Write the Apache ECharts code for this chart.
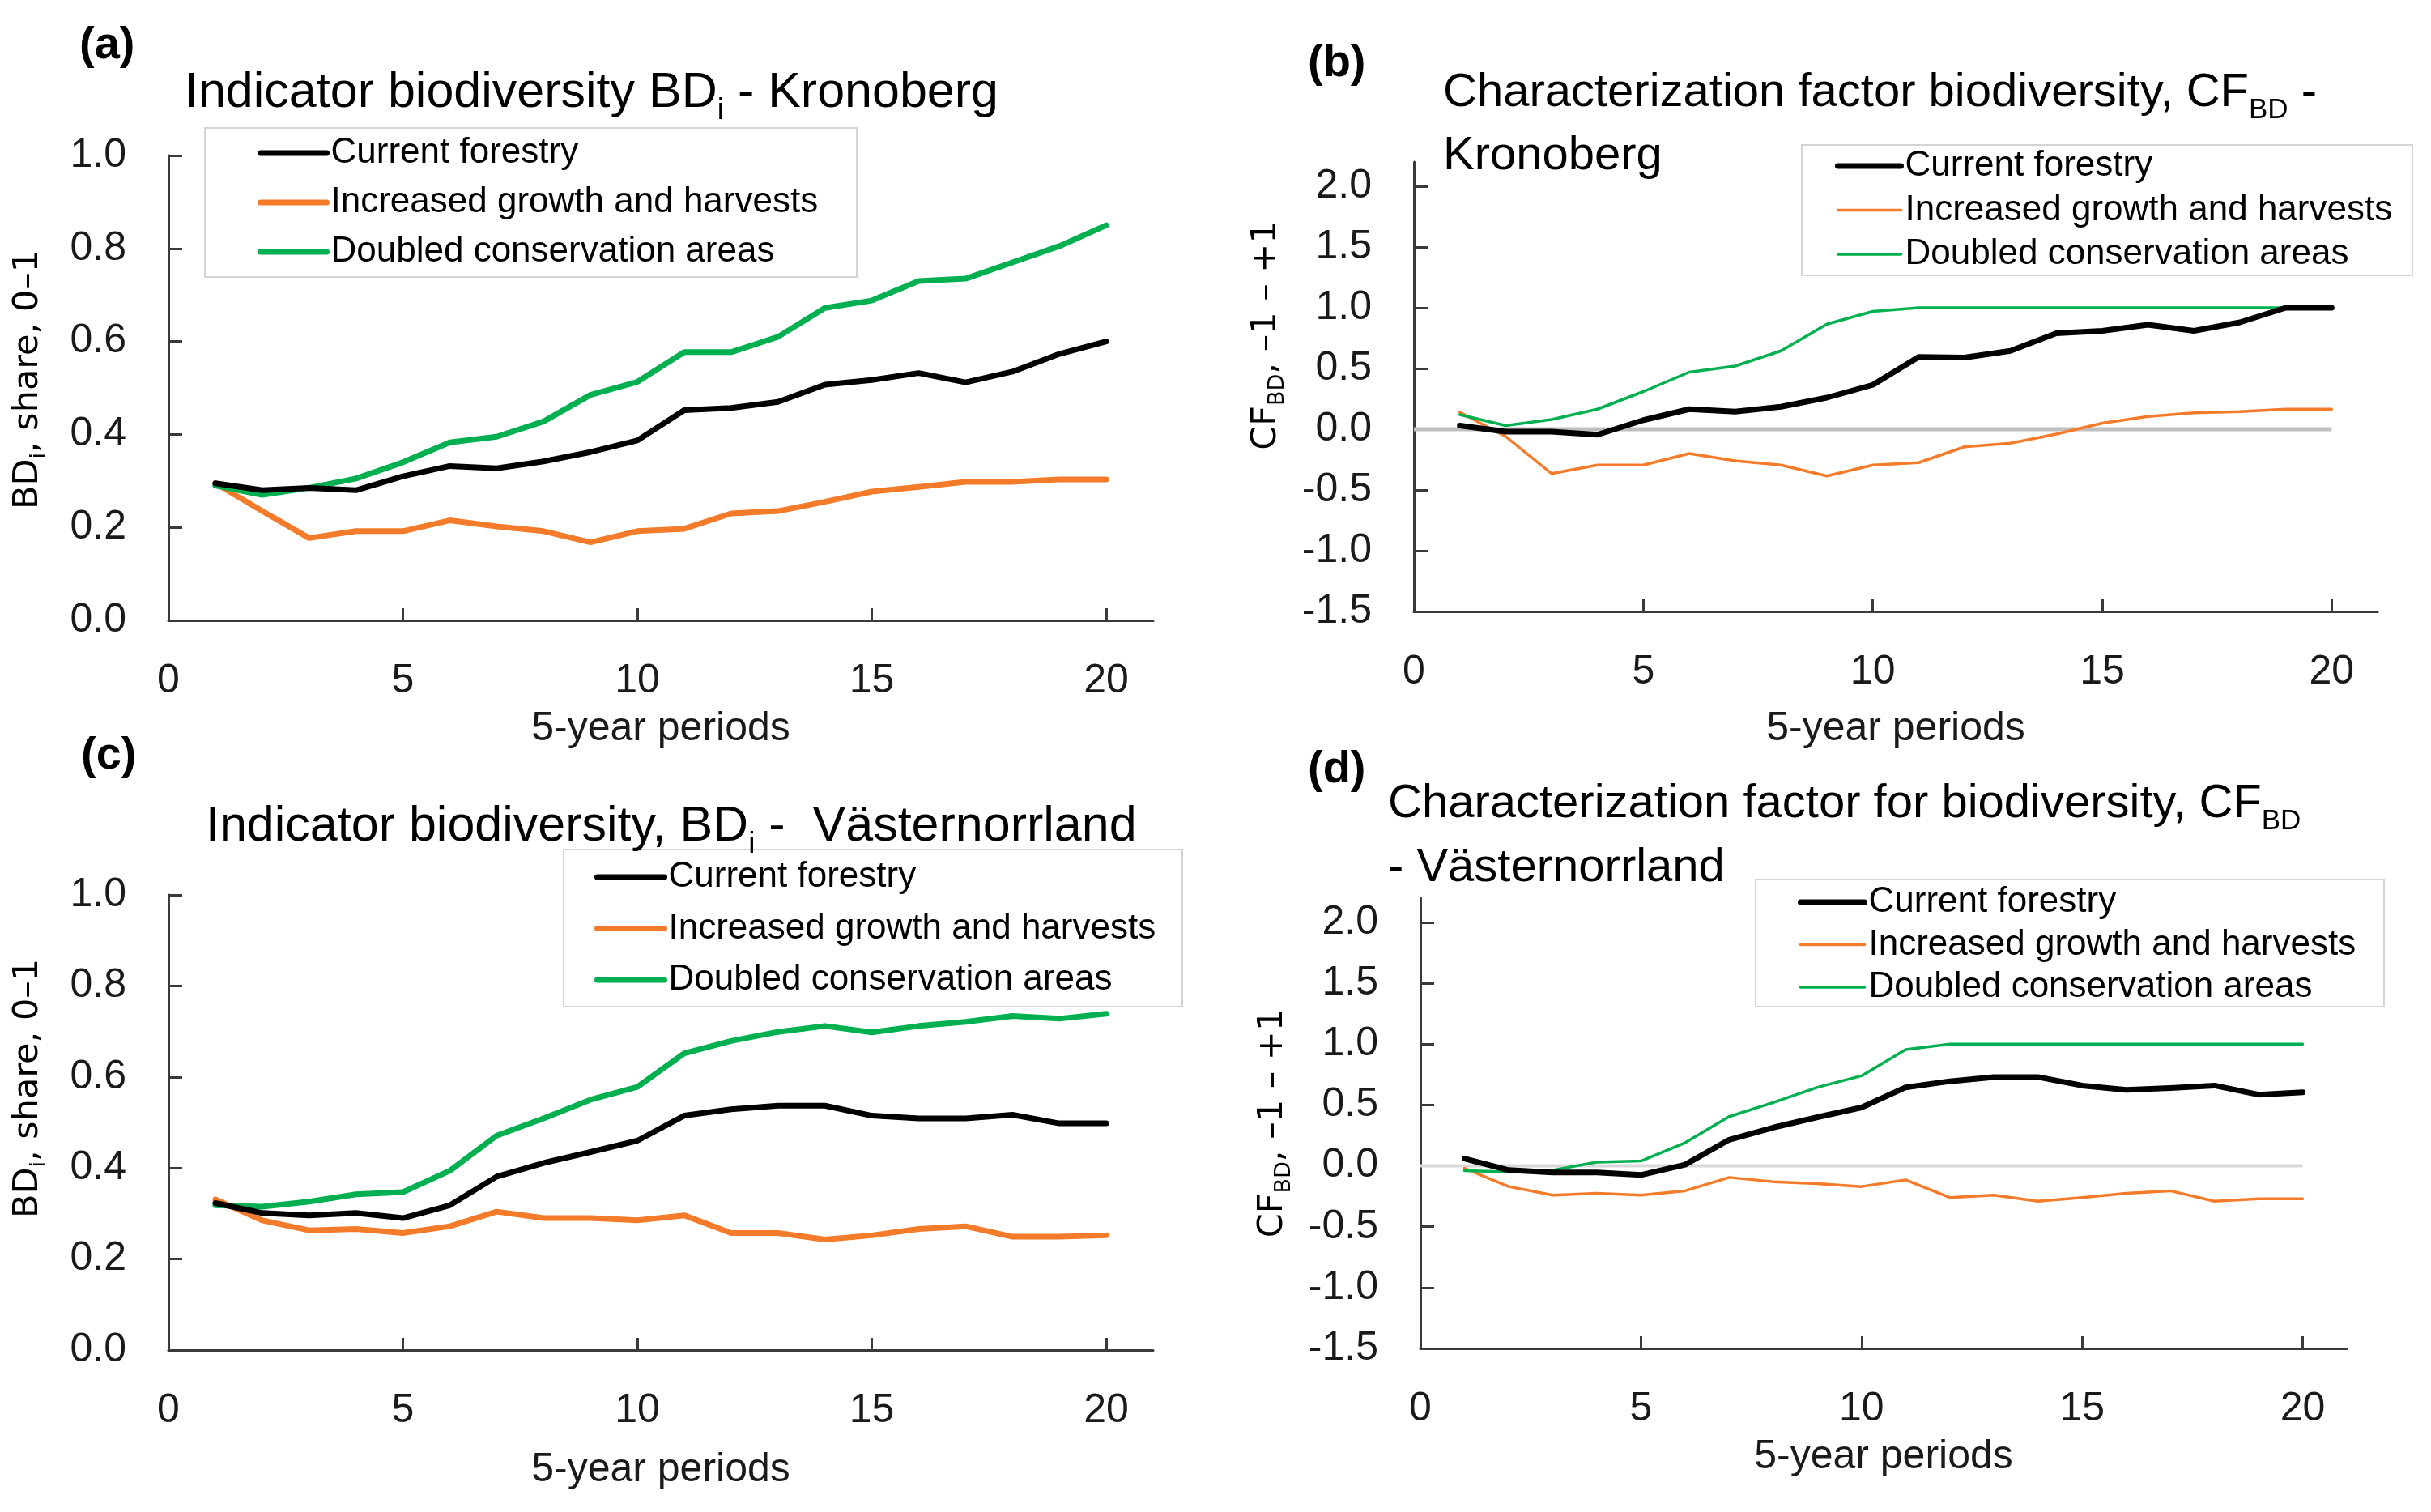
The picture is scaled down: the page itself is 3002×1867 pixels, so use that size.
<!DOCTYPE html>
<html>
<head>
<meta charset="utf-8">
<script src="https://cdn.jsdelivr.net/npm/echarts@6/dist/echarts.min.js"></script>
<style>html,body{margin:0;padding:0;background:#fff}#c{width:3002px;height:1867px}</style>
</head>
<body>
<div id="c"></div>
<script>
// ---------- data ----------
const PERIODS = [1,2,3,4,5,6,7,8,9,10,11,12,13,14,15,16,17,18,19,20];
const SERIES_NAMES = ['Current forestry','Increased growth and harvests','Doubled conservation areas'];

const A_CURRENT   = [0.295,0.28,0.285,0.28,0.31,0.332,0.327,0.342,0.362,0.387,0.452,0.457,0.47,0.507,0.517,0.532,0.512,0.535,0.573,0.60];
const A_INCREASED = [0.295,0.235,0.177,0.192,0.192,0.215,0.202,0.192,0.168,0.192,0.197,0.23,0.235,0.255,0.277,0.287,0.298,0.298,0.303,0.303];
const A_DOUBLED   = [0.29,0.27,0.285,0.305,0.34,0.383,0.395,0.428,0.485,0.513,0.577,0.577,0.61,0.672,0.688,0.73,0.735,0.77,0.805,0.85];

const B_CURRENT   = [0.03,-0.02,-0.02,-0.045,0.075,0.165,0.145,0.185,0.26,0.365,0.595,0.59,0.645,0.79,0.81,0.86,0.81,0.88,1.0,1.0];
const B_INCREASED = [0.14,-0.06,-0.365,-0.295,-0.295,-0.2,-0.26,-0.295,-0.385,-0.295,-0.275,-0.145,-0.115,-0.04,0.05,0.105,0.135,0.145,0.165,0.165];
const B_DOUBLED   = [0.12,0.03,0.08,0.165,0.31,0.47,0.52,0.645,0.865,0.97,1.0,1.0,1.0,1.0,1.0,1.0,1.0,1.0,1.0,1.0];

const C_CURRENT   = [0.323,0.301,0.296,0.301,0.29,0.318,0.381,0.411,0.435,0.46,0.515,0.529,0.537,0.537,0.515,0.509,0.509,0.517,0.498,0.498];
const C_INCREASED = [0.331,0.285,0.263,0.266,0.257,0.272,0.304,0.29,0.29,0.285,0.296,0.257,0.257,0.243,0.252,0.266,0.272,0.249,0.249,0.252];
const C_DOUBLED   = [0.318,0.315,0.326,0.342,0.347,0.394,0.471,0.509,0.55,0.578,0.652,0.679,0.699,0.712,0.698,0.712,0.721,0.734,0.728,0.739];

const D_CURRENT   = [0.06,-0.035,-0.055,-0.055,-0.075,0.01,0.215,0.315,0.4,0.48,0.645,0.695,0.73,0.73,0.66,0.625,0.64,0.66,0.585,0.605];
const D_INCREASED = [-0.02,-0.17,-0.24,-0.225,-0.24,-0.205,-0.095,-0.13,-0.145,-0.17,-0.115,-0.26,-0.24,-0.29,-0.26,-0.225,-0.205,-0.29,-0.27,-0.27];
const D_DOUBLED   = [-0.04,-0.05,-0.035,0.03,0.04,0.19,0.405,0.52,0.645,0.74,0.955,1.0,1.0,1.0,1.0,1.0,1.0,1.0,1.0,1.0];

const X_LABELS = [0,5,10,15,20];
const X_TICKS  = [5,10,15,20];
const Y_BD_TICKS = [0,0.2,0.4,0.6,0.8,1.0];
const Y_CF_TICKS = [-1.5,-1.0,-0.5,0,0.5,1.0,1.5,2.0];
const ZERO_LINE = [0,20];

// ---------- styling ----------
const FONT = 'Liberation Sans';
const AXIS_COLOR = '#3a3a3a';
const COLORS = ['#000000','#F47B2A','#00B050'];

const panels = [
  {grid:{left:208,top:192,width:1216,height:574}, y:[0,1.0,0.2], yTicks:Y_BD_TICKS, thin:false,
   data:[A_CURRENT,A_INCREASED,A_DOUBLED], yName:'BD{s|i}, share, 0–1', yGap:146, yPad:20, xGap:109,
   legend:{left:318,top:167,itemWidth:82,itemGap:17}, box:[253,158,805,184]},
  {grid:{left:1746,top:200,width:1190,height:555}, y:[-1.5,2.2,0.5], yTicks:Y_CF_TICKS, thin:true, zero:'#bfbfbf', zeroW:5,
   data:[B_CURRENT,B_INCREASED,B_DOUBLED], yName:'CF{s|BD}, –1 – +1', yGap:155, yPad:126, xGap:120,
   legend:{left:2266,top:183,itemWidth:78,itemGap:10.5}, box:[2225,179,754,161]},
  {grid:{left:208,top:1105,width:1216,height:562}, y:[0,1.0,0.2], yTicks:Y_BD_TICKS, thin:false,
   data:[C_CURRENT,C_INCREASED,C_DOUBLED], yName:'BD{s|i}, share, 0–1', yGap:146, yPad:84, xGap:123,
   legend:{left:734,top:1061,itemWidth:83,itemGap:19.5}, box:[696,1049,764,194]},
  {grid:{left:1754,top:1109,width:1144,height:556}, y:[-1.5,2.2,0.5], yTicks:Y_CF_TICKS, thin:true, zero:'#d9d9d9', zeroW:4,
   data:[D_CURRENT,D_INCREASED,D_DOUBLED], yName:'CF{s|BD}, –1 – +1', yGap:155, yPad:0, xGap:109,
   legend:{left:2220,top:1092,itemWidth:79,itemGap:8.5}, box:[2168,1086,776,157]}
];

const titles = [
  {text:'(a)', left:98, top:27, bold:true},
  {text:'(b)', left:1615, top:49, bold:true},
  {text:'(c)', left:100, top:904, bold:true},
  {text:'(d)', left:1615, top:921, bold:true},
  {text:'Indicator biodiversity BD{sub|i} - Kronoberg', left:228, top:75, size:61, lh:80},
  {text:'Characterization factor biodiversity, CF{sub|BD} -\nKronoberg', left:1782, top:76, size:58, lh:78},
  {text:'Indicator biodiversity, BD{sub|i} -  Västernorrland', left:254, top:981, size:61, lh:80},
  {text:'Characterization factor for biodiversity, CF{sub|BD}\n- Västernorrland', left:1714, top:953, size:58, lh:79}
];

const option = {
  animation:false,
  backgroundColor:'#ffffff',
  textStyle:{fontFamily:FONT},
  title: titles.map(t => t.bold ? {
    text:t.text, left:t.left, top:t.top, padding:0,
    textStyle:{fontFamily:FONT, fontSize:56, fontWeight:'bold', color:'#000', lineHeight:60}
  } : {
    text:t.text, left:t.left, top:t.top, padding:0,
    textStyle:{fontFamily:FONT, fontSize:t.size, fontWeight:'normal', color:'#000', lineHeight:t.lh,
      rich:{sub:{fontFamily:FONT, fontSize:Math.round(t.size*0.6), lineHeight:Math.round(t.size*0.72), verticalAlign:'bottom', color:'#000'}}}
  }),
  grid: panels.map(p => Object.assign({containLabel:false}, p.grid)),
  xAxis: panels.map((p,i) => ({
    gridIndex:i, type:'value', min:0, max:21,
    axisLine:{onZero:false, lineStyle:{color:AXIS_COLOR, width:3}},
    axisTick:{inside:true, length:15, customValues:X_TICKS, lineStyle:{color:AXIS_COLOR, width:3}},
    axisLabel:{customValues:X_LABELS, margin:50, fontSize:50, fontFamily:FONT, color:'#1a1a1a'},
    splitLine:{show:false},
    name:'5-year periods', nameLocation:'middle', nameGap:p.xGap,
    nameTextStyle:{fontFamily:FONT, fontSize:50, lineHeight:50, color:'#1a1a1a'}
  })),
  yAxis: panels.map((p,i) => ({
    gridIndex:i, type:'value', min:p.y[0], max:p.y[1], interval:p.y[2],
    axisLine:{show:true, onZero:false, lineStyle:{color:AXIS_COLOR, width:3}},
    axisTick:{show:true, inside:true, length:17, customValues:p.yTicks, lineStyle:{color:AXIS_COLOR, width:3}},
    axisLabel:{customValues:p.yTicks, margin:52, fontSize:50, fontFamily:FONT, color:'#1a1a1a',
      formatter:v => Number(v).toFixed(1)},
    splitLine:{show:false},
    name:p.yName, nameLocation:'middle', nameRotate:90, nameGap:p.yGap,
    nameTextStyle:{fontFamily:'DejaVu Sans', fontSize:43, lineHeight:54, color:'#000', padding:[0,0,0,p.yPad],
      rich:{s:{fontFamily:'DejaVu Sans', fontSize:27, lineHeight:25, verticalAlign:'bottom', color:'#000'}}}
  })),
  legend: panels.map((p,i) => ({
    orient:'vertical', left:p.legend.left, top:p.legend.top, padding:0,
    itemWidth:p.legend.itemWidth, itemHeight:2, itemGap:p.legend.itemGap, selectedMode:false,
    textStyle:{fontFamily:FONT, fontSize:44, lineHeight:44, color:'#000'},
    data: SERIES_NAMES.map((n,k) => ({name:n,
      itemStyle:{color:'rgba(0,0,0,0)', borderWidth:0, opacity:0},
      lineStyle:{width:(p.thin && k>0) ? 3.5 : 7, color:COLORS[k]}}))
  })),
  graphic: panels.map(p => ({
    type:'rect', silent:true, z:-1,
    shape:{x:p.box[0], y:p.box[1], width:p.box[2], height:p.box[3]},
    style:{fill:'#ffffff', stroke:'#d4d4d4', lineWidth:2}
  })),
  series: []
};

panels.forEach((p,i) => {
  if (p.zero) {
    option.series.push({
      name:'zero', type:'line', xAxisIndex:i, yAxisIndex:i, symbol:'none', silent:true, z:1,
      data: ZERO_LINE.map(x => [x, 0]),
      lineStyle:{color:p.zero, width:p.zeroW}, itemStyle:{color:p.zero}, emphasis:{disabled:true}
    });
  }
  p.data.forEach((arr,k) => {
    const w = (p.thin && k>0) ? 3.5 : 7;
    option.series.push({
      name:SERIES_NAMES[k], type:'line', xAxisIndex:i, yAxisIndex:i,
      symbol:'none', smooth:false, z:2 + (k===0 ? 2 : 0),
      data: PERIODS.map((x,j) => [x, arr[j]]),
      lineStyle:{color:COLORS[k], width:w, join:'round', cap:'round'},
      itemStyle:{color:COLORS[k]},
      emphasis:{disabled:true}
    });
  });
});

const chart = echarts.init(document.getElementById('c'), null, {renderer:'canvas'});
chart.setOption(option);
</script>
</body>
</html>
